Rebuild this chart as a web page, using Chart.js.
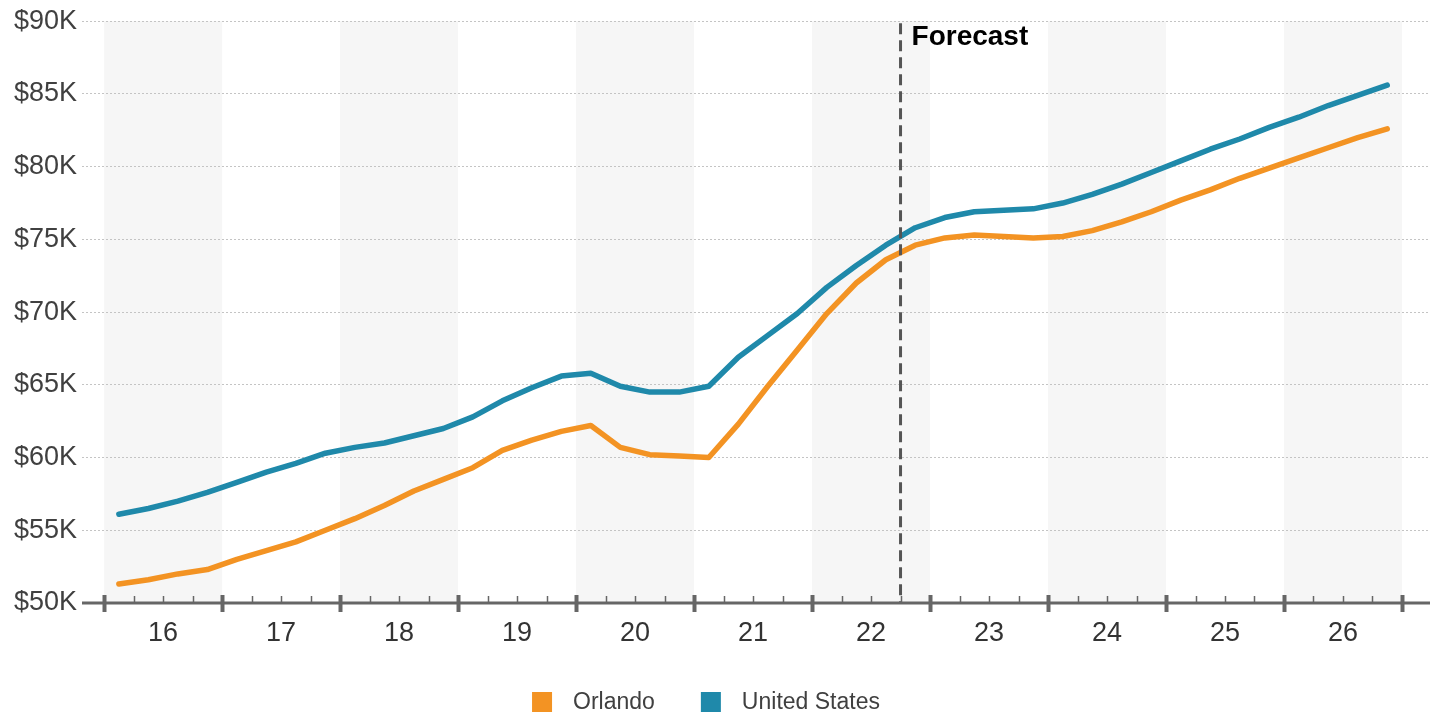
<!DOCTYPE html>
<html>
<head>
<meta charset="utf-8">
<script src="https://cdn.jsdelivr.net/npm/chart.js@4.4.0/dist/chart.umd.min.js"></script>
<style>
    html, body { margin: 0; padding: 0; background: #fff; }
    #wrap { width: 1434px; height: 715px; }
</style>
</head>
<body>
<div id="wrap"><canvas id="chart" width="1434" height="715"></canvas></div>
<script>
// quarterly series, 2016 Q1 .. 2026 Q4
var years = ['16', '17', '18', '19', '20', '21', '22', '23', '24', '25', '26'];
var quartersPerYear = 4;
var forecastAfter = 26; // last actual quarter index (22 Q3)

var orlando = [
    51.3, 51.6, 52.0, 52.3,
    53.0, 53.6, 54.2, 55.0,
    55.8, 56.7, 57.7, 58.5,
    59.3, 60.5, 61.2, 61.8,
    62.2, 60.7, 60.2, 60.1,
    60.0, 62.3, 64.9, 67.4,
    69.9, 72.0, 73.6, 74.6,
    75.1, 75.3, 75.2, 75.1,
    75.2, 75.6, 76.2, 76.9,
    77.7, 78.4, 79.2, 79.9,
    80.6, 81.3, 82.0, 82.6
];

var unitedStates = [
    56.1, 56.5, 57.0, 57.6,
    58.3, 59.0, 59.6, 60.3,
    60.7, 61.0, 61.5, 62.0,
    62.8, 63.9, 64.8, 65.6,
    65.8, 64.9, 64.5, 64.5,
    64.9, 66.9, 68.4, 69.9,
    71.7, 73.2, 74.6, 75.8,
    76.5, 76.9, 77.0, 77.1,
    77.5, 78.1, 78.8, 79.6,
    80.4, 81.2, 81.9, 82.7,
    83.4, 84.2, 84.9, 85.6
];

var yTicks = [50, 55, 60, 65, 70, 75, 80, 85, 90];

var orange = '#f39323';
var blue = '#1f89aa';
var textColor = '#404040';
var axisColor = '#666666';

function toPoints( values ){
    return values.map(function(v, i){ return { x: i, y: v }; });
}

var nQuarters = years.length * quartersPerYear;

// alternating year bands, axis ticks, forecast marker, legend
var decorPlugin = {
    id: 'decor',
    beforeDraw: function(chart){
        var ctx = chart.ctx;
        var x = chart.scales.x;
        var area = chart.chartArea;
        ctx.save();
        ctx.fillStyle = '#f6f6f6';
        for( var i = 0; i < years.length; i += 2 ){
            var l = x.getPixelForValue(i * quartersPerYear - 0.5);
            var r = x.getPixelForValue((i + 1) * quartersPerYear - 0.5);
            ctx.fillRect(l, area.top, r - l, area.bottom - area.top);
        }
        ctx.restore();
    },
    afterDatasetsDraw: function(chart){
        var ctx = chart.ctx;
        var x = chart.scales.x;
        var area = chart.chartArea;
        var yb = area.bottom;
        ctx.save();

        // forecast divider
        var fx = x.getPixelForValue(forecastAfter + 0.5);
        ctx.strokeStyle = '#555555';
        ctx.lineWidth = 3;
        ctx.setLineDash([11, 6]);
        ctx.beginPath();
        ctx.moveTo(fx, area.top + 2);
        ctx.lineTo(fx, yb);
        ctx.stroke();
        ctx.setLineDash([]);

        ctx.fillStyle = '#000';
        ctx.font = 'bold 28px "Liberation Sans", Arial, sans-serif';
        ctx.textBaseline = 'alphabetic';
        ctx.textAlign = 'left';
        ctx.fillText('Forecast', fx + 11, area.top + 24);

        // axis line
        ctx.strokeStyle = axisColor;
        ctx.lineWidth = 3;
        ctx.beginPath();
        ctx.moveTo(area.left, yb);
        ctx.lineTo(area.right, yb);
        ctx.stroke();

        // quarter ticks
        for( var q = 0; q <= nQuarters; q++ ){
            var px = Math.round(x.getPixelForValue(q - 0.5)) + 0.5;
            ctx.beginPath();
            if( q % quartersPerYear === 0 ){
                ctx.lineWidth = 4;
                ctx.moveTo(px, yb - 8);
                ctx.lineTo(px, yb + 9);
            } else {
                ctx.lineWidth = 1.5;
                ctx.moveTo(px, yb - 7);
                ctx.lineTo(px, yb);
            }
            ctx.stroke();
        }
        ctx.restore();
    },
    afterDraw: function(chart){
        var ctx = chart.ctx;
        var items = chart.data.datasets;
        var box = 20, gapText = 21, gapItem = 46;
        ctx.save();
        ctx.font = '23px "Liberation Sans", Arial, sans-serif';
        var total = 0;
        var widths = items.map(function(d){ return ctx.measureText(d.label).width; });
        widths.forEach(function(w, i){ total += box + gapText + w + (i ? gapItem : 0); });
        var cx = (chart.width - total) / 2 - 11;
        var cy = 702;
        ctx.textBaseline = 'middle';
        ctx.textAlign = 'left';
        items.forEach(function(d, i){
            ctx.fillStyle = d.borderColor;
            ctx.fillRect(cx, cy - box / 2, box, box);
            ctx.fillStyle = textColor;
            ctx.fillText(d.label, cx + box + gapText, cy + 1);
            cx += box + gapText + widths[i] + gapItem;
        });
        ctx.restore();
    }
};

new Chart(document.getElementById('chart'), {
    type: 'line',
    data: {
        datasets: [{
            label: 'Orlando',
            data: toPoints(orlando),
            borderColor: orange,
            backgroundColor: orange,
            borderWidth: 5.5,
            pointRadius: 0,
            tension: 0,
            borderCapStyle: 'round',
            borderJoinStyle: 'round'
        }, {
            label: 'United States',
            data: toPoints(unitedStates),
            borderColor: blue,
            backgroundColor: blue,
            borderWidth: 5.5,
            pointRadius: 0,
            tension: 0,
            borderCapStyle: 'round',
            borderJoinStyle: 'round'
        }]
    },
    options: {
        responsive: false,
        animation: false,
        events: [],
        layout: { padding: { top: 7, right: 4, left: 0, bottom: 50 } },
        plugins: {
            legend: { display: false },
            tooltip: { enabled: false }
        },
        scales: {
            x: {
                type: 'linear',
                min: -1.25,
                max: nQuarters - 0.5 + 0.95,
                afterBuildTicks: function(scale){
                    scale.ticks = years.map(function(y, i){
                        return { value: i * quartersPerYear + 1.5 };
                    });
                },
                afterFit: function(scale){ scale.height = 62; },
                ticks: {
                    autoSkip: false,
                    maxRotation: 0,
                    padding: 14,
                    color: '#333333',
                    font: { family: '"Liberation Sans", Arial, sans-serif', size: 27 },
                    callback: function(v){
                        return years[Math.round((v - 1.5) / quartersPerYear)];
                    }
                },
                grid: { display: false, drawTicks: false },
                border: { display: false }
            },
            y: {
                min: 50,
                max: 90,
                afterBuildTicks: function(scale){
                    scale.ticks = yTicks.map(function(v){ return { value: v }; });
                },
                afterFit: function(scale){ scale.width = 82; },
                ticks: {
                    padding: 5,
                    color: textColor,
                    font: { family: '"Liberation Sans", Arial, sans-serif', size: 27 },
                    callback: function(v){ return '$' + v + 'K'; }
                },
                grid: { color: '#c4c4c4', lineWidth: 1, drawTicks: false },
                border: { display: false, dash: [2, 2] }
            }
        }
    },
    plugins: [decorPlugin]
});
</script>
</body>
</html>
